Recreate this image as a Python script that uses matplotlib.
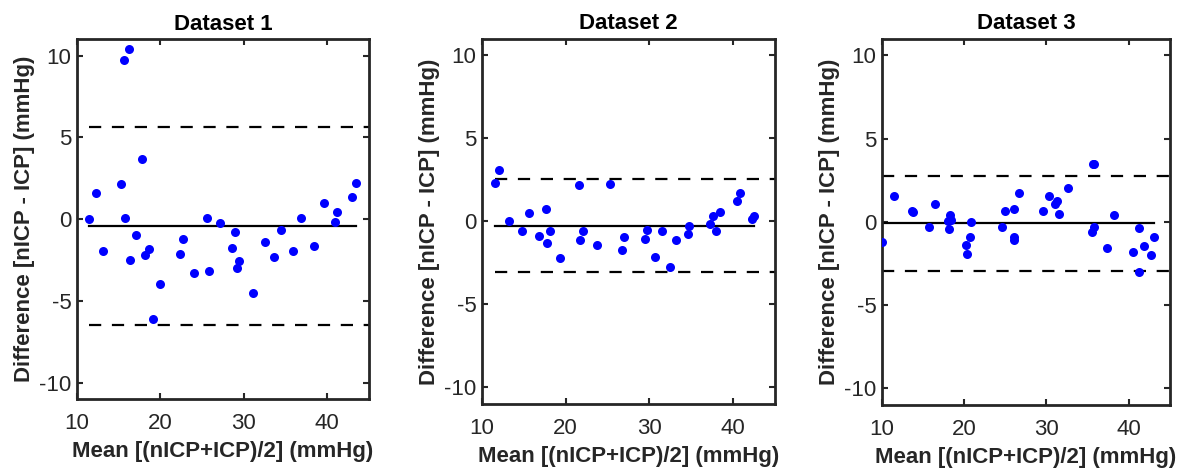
import numpy as np
import matplotlib
matplotlib.use('Agg')
import matplotlib.pyplot as plt

plt.rcParams['font.family'] = ['Liberation Sans', 'DejaVu Sans']
plt.rcParams['axes.unicode_minus'] = False

# Dataset 1: mean and difference (mmHg)
mean1 = [11.5, 12.3, 13.1, 15.3, 15.6, 16.2, 15.8, 16.4, 17.1, 17.8, 18.2, 18.6,
         19.1, 20.0, 22.4, 22.7, 24.0, 25.6, 25.8, 27.2, 28.6, 28.9, 29.4, 29.2,
         31.1, 32.6, 33.6, 34.5, 35.9, 36.8, 38.4, 39.6, 40.9, 41.2, 43.0, 43.4]
diff1 = [0.0, 1.63, -1.93, 2.13, 9.76, 10.43, 0.06, -2.48, -0.98, 3.7, -2.17, -1.79,
         -6.1, -3.98, -2.13, -1.2, -3.27, 0.06, -3.19, -0.2, -1.77, -0.79, -2.58, -2.97,
         -4.53, -1.4, -2.32, -0.67, -1.91, 0.06, -1.63, 0.98, -0.16, 0.45, 1.34, 2.24]
bias1, upper1, lower1 = -0.43, 5.65, -6.48

# Dataset 2
mean2 = [11.6, 12.0, 13.2, 14.84, 15.64, 16.84, 17.68, 17.76, 18.16, 19.28, 21.6,
         21.76, 22.08, 23.76, 25.28, 26.68, 27.0, 29.44, 29.76, 30.72, 31.48, 32.44,
         33.2, 34.56, 34.76, 37.28, 37.6, 38.0, 38.48, 40.44, 40.88, 42.28, 42.56]
diff2 = [2.33, 3.12, 0.04, -0.56, 0.52, -0.87, 0.74, -1.31, -0.56, -2.21, 2.17,
         -1.11, -0.56, -1.45, 2.25, -1.75, -0.95, -1.07, -0.50, -2.13, -0.56, -2.76,
         -1.11, -0.78, -0.30, -0.14, 0.30, -0.56, 0.54, 1.23, 1.71, 0.12, 0.32]
bias2, upper2, lower2 = -0.26, 2.58, -3.08

# Dataset 3
mean3 = [10.0, 11.46, 13.68, 13.72, 15.67, 16.4, 18.22, 18.38, 18.0, 18.18, 20.24,
         20.28, 20.73, 20.77, 24.57, 24.94, 26.07, 26.03, 26.0, 26.64, 29.55, 30.28,
         31.05, 31.3, 31.58, 32.6, 35.5, 35.75, 35.67, 35.8, 38.2, 37.4, 40.49, 41.21,
         41.3, 41.9, 42.67, 43.12]
diff3 = [-1.2, 1.58, 0.66, 0.62, -0.30, 1.10, 0.42, 0.14, 0.02, -0.46, -1.42,
         -1.96, -0.90, -0.04, -0.30, 0.68, 0.78, -0.90, -1.10, 1.72, 0.68, 1.58,
         1.06, 1.26, 0.50, 2.02, -0.62, -0.32, 3.47, 3.47, 0.44, -1.56, -1.82, -0.40,
         -2.99, -1.46, -2.02, -0.90]
bias3, upper3, lower3 = -0.10, 2.77, -2.93

datasets = [
    ('Dataset 1', mean1, diff1, bias1, upper1, lower1),
    ('Dataset 2', mean2, diff2, bias2, upper2, lower2),
    ('Dataset 3', mean3, diff3, bias3, upper3, lower3),
]

# axes boxes (figure fraction)
boxes = [
    [0.065, 0.147, 0.2466, 0.769],
    [0.407, 0.137, 0.2475, 0.780],
    [0.745, 0.135, 0.2430, 0.782],
]

xlim = (10, 45)
ylim = (-11, 11)
grey = '#262626'

fig = plt.figure(figsize=(11.84, 4.68), dpi=100)
for (title, m, d, bias, up, lo), box in zip(datasets, boxes):
    ax = fig.add_axes(box)
    ax.plot(m, d, 'o', color='#0000ff', markersize=6.5, markeredgewidth=0, zorder=3)
    ax.plot([min(m), max(m)], [bias, bias], '-', color='k', lw=1.6)
    ax.plot([min(m), xlim[1]], [up, up], '--', color='k', lw=1.6, dashes=(5.5, 4.8))
    ax.plot([min(m), xlim[1]], [lo, lo], '--', color='k', lw=1.6, dashes=(5.5, 4.8))
    ax.set_xlim(xlim)
    ax.set_ylim(ylim)
    ax.set_xticks([10, 20, 30, 40])
    ax.set_yticks([-10, -5, 0, 5, 10])
    ax.tick_params(direction='in', top=True, right=True, length=4, width=1.5,
                   colors=grey, labelsize=16)
    ax.tick_params(axis='x', pad=10)
    ax.tick_params(axis='y', pad=4)
    for s in ax.spines.values():
        s.set_linewidth(2)
        s.set_color(grey)
    ax.set_title(title, fontsize=16, fontweight='bold', pad=7)
    ax.set_xlabel('Mean [(nICP+ICP)/2] (mmHg)', fontsize=16, fontweight='bold',
                  color=grey, labelpad=5)
    ax.set_ylabel('Difference [nICP - ICP] (mmHg)', fontsize=16, fontweight='bold',
                  color=grey, labelpad=3)

fig.savefig('out.png', dpi=100)
